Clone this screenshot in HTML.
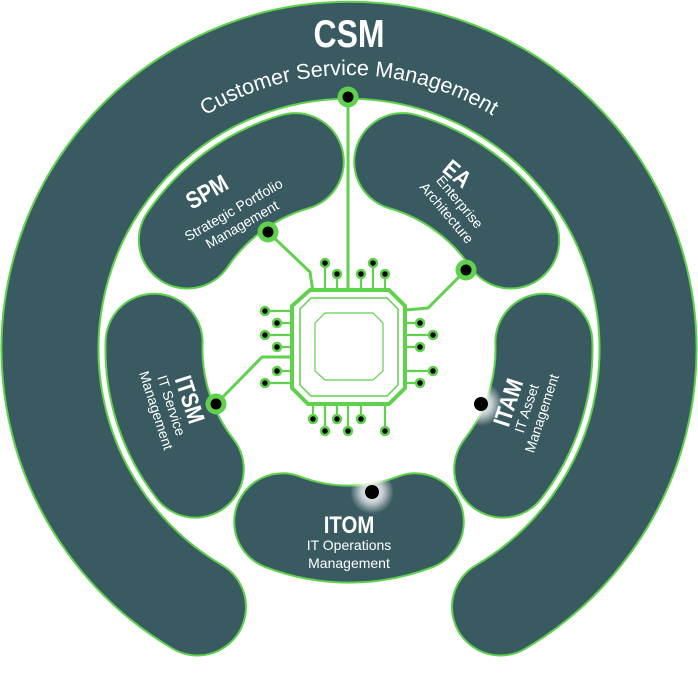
<!DOCTYPE html>
<html><head><meta charset="utf-8"><style>html,body{margin:0;padding:0;background:#fff}svg{display:block}</style></head>
<body>
<svg width="698" height="697" viewBox="0 0 698 697" xmlns="http://www.w3.org/2000/svg" font-family="Liberation Sans, sans-serif">
<defs>
<radialGradient id="glow"><stop offset="0" stop-color="#fff" stop-opacity="1"/><stop offset="0.5" stop-color="#fff" stop-opacity="0.7"/><stop offset="1" stop-color="#fff" stop-opacity="0"/></radialGradient>
<path id="csmarc" d="M75,349 A274,274 0 0 1 623,349"/>
</defs>
<g fill="none" stroke-linecap="round">
<path d="M197.5,607 A299,299 0 1 1 500.5,607" stroke="#5fd14d" stroke-width="99"/>
<path d="M197.5,607 A299,299 0 1 1 500.5,607" stroke="#385a60" stroke-width="95"/>
<g stroke="#5fd14d" stroke-width="99">
<path d="M282.7,521.8 A185,185 0 0 0 415.3,521.8"/>
<path d="M543.9,342.2 A195,195 0 0 1 502.7,469.1"/>
<path d="M154.1,342.2 A195,195 0 0 0 195.3,469.1"/>
<path d="M402.7,161.6 A195,195 0 0 1 510.7,240"/>
<path d="M295.3,161.6 A195,195 0 0 0 187.3,240"/>
</g>
<g stroke="#385a60" stroke-width="95">
<path d="M282.7,521.8 A185,185 0 0 0 415.3,521.8"/>
<path d="M543.9,342.2 A195,195 0 0 1 502.7,469.1"/>
<path d="M154.1,342.2 A195,195 0 0 0 195.3,469.1"/>
<path d="M402.7,161.6 A195,195 0 0 1 510.7,240"/>
<path d="M295.3,161.6 A195,195 0 0 0 187.3,240"/>
</g>
</g>
<g stroke="#5fd14d" stroke-width="3" fill="none">
<line x1="348" y1="97" x2="348" y2="292"/>
<path d="M268,232 L310,272 L313,292"/>
<path d="M466,270 L428,308 L405,310"/>
<path d="M216,404 L262,357 L292,357"/>
<polygon points="310,290 389,290 405,306 405,388 389,404 308,404 292,388 292,306" stroke-width="4" fill="#fff"/>
<polygon points="311,298 387,298 398,309 398,385 387,396 311,396 300,385 300,309" stroke-width="1.5"/>
<polygon points="325,313 373,313 383,323 383,371 373,380 325,380 315,371 315,323" stroke-width="1.2"/>
<g stroke-width="2.2">
<line x1="325" y1="263" x2="325" y2="290"/><line x1="337" y1="274" x2="337" y2="290"/><line x1="361" y1="274" x2="361" y2="290"/><line x1="373" y1="263" x2="373" y2="290"/><line x1="385" y1="274" x2="385" y2="290"/>
<line x1="265" y1="311" x2="292" y2="311"/><line x1="277" y1="323" x2="292" y2="323"/><line x1="265" y1="335" x2="292" y2="335"/><line x1="277" y1="347" x2="292" y2="347"/><line x1="277" y1="371" x2="292" y2="371"/><line x1="265" y1="383" x2="292" y2="383"/>
<line x1="405" y1="323" x2="420" y2="323"/><line x1="405" y1="335" x2="433" y2="335"/><line x1="405" y1="347" x2="420" y2="347"/><line x1="407" y1="371" x2="433" y2="371"/><line x1="407" y1="383" x2="420" y2="383"/>
<line x1="313" y1="404" x2="313" y2="419"/><line x1="325" y1="404" x2="325" y2="431"/><line x1="337" y1="404" x2="337" y2="419"/><line x1="348" y1="404" x2="348" y2="431"/><line x1="361" y1="404" x2="361" y2="419"/><line x1="385" y1="405" x2="385" y2="431"/>
</g>
</g>
<g fill="#000" stroke="#5fd14d" stroke-width="2.5">
<circle cx="325" cy="263" r="4"/><circle cx="337" cy="274" r="4"/><circle cx="361" cy="274" r="4"/><circle cx="373" cy="263" r="4"/><circle cx="385" cy="274" r="4"/>
<circle cx="265" cy="311" r="4"/><circle cx="277" cy="323" r="4"/><circle cx="265" cy="335" r="4"/><circle cx="277" cy="347" r="4"/><circle cx="277" cy="371" r="4"/><circle cx="265" cy="383" r="4"/>
<circle cx="420" cy="323" r="4"/><circle cx="433" cy="335" r="4"/><circle cx="420" cy="347" r="4"/><circle cx="433" cy="371" r="4"/><circle cx="420" cy="383" r="4"/>
<circle cx="313" cy="419" r="4"/><circle cx="325" cy="431" r="4"/><circle cx="337" cy="419" r="4"/><circle cx="348" cy="431" r="4"/><circle cx="361" cy="419" r="4"/><circle cx="385" cy="431" r="4"/>
</g>
<g fill="#000" stroke="#5fd14d" stroke-width="5">
<circle cx="348" cy="97" r="8"/><circle cx="268" cy="232" r="8"/><circle cx="466" cy="270" r="8"/><circle cx="216" cy="404" r="8"/>
</g>
<circle cx="372" cy="492" r="22" fill="url(#glow)"/><circle cx="481" cy="404" r="22" fill="url(#glow)"/>
<circle cx="372" cy="492" r="7" fill="#000"/><circle cx="481" cy="404" r="7" fill="#000"/>
<g fill="#fff">
<g transform="translate(349,47) scale(0.82,1)"><text text-anchor="middle" font-weight="bold" font-size="39">CSM</text></g>
<text font-size="21.5"><textPath href="#csmarc" startOffset="50%" text-anchor="middle">Customer Service Management</textPath></text>
<g transform="translate(211,199) rotate(-30) scale(0.85,1)"><text font-size="24" font-weight="bold" text-anchor="middle">SPM</text></g>
<g transform="translate(236,214) rotate(-30)"><text font-size="14" text-anchor="middle">Strategic Portfolio</text><text y="17" font-size="14" text-anchor="middle">Management</text></g>
<g transform="translate(452,180) rotate(40) scale(0.85,1)"><text font-size="24" font-weight="bold" text-anchor="middle">EA</text></g>
<g transform="translate(456,205) rotate(50)"><text font-size="14" text-anchor="middle">Enterprise</text><text y="17" font-size="14" text-anchor="middle">Architecture</text></g>
<g transform="translate(182,402) rotate(72)"><text font-size="24" font-weight="bold" text-anchor="middle" transform="scale(0.85,1)">ITSM</text><text y="16" font-size="14" text-anchor="middle">IT Service</text><text y="32" font-size="14" text-anchor="middle">Management</text></g>
<g transform="translate(516,405) rotate(-72)"><text font-size="24" font-weight="bold" text-anchor="middle" transform="scale(0.85,1)">ITAM</text><text y="16" font-size="14" text-anchor="middle">IT Asset</text><text y="32" font-size="14" text-anchor="middle">Management</text></g>
<g transform="translate(349,533) scale(0.85,1)"><text font-size="24" font-weight="bold" text-anchor="middle">ITOM</text></g>
<text x="349" y="550" font-size="14" text-anchor="middle">IT Operations</text>
<text x="349" y="568" font-size="14" text-anchor="middle">Management</text>
</g>
</svg>
</body></html>
